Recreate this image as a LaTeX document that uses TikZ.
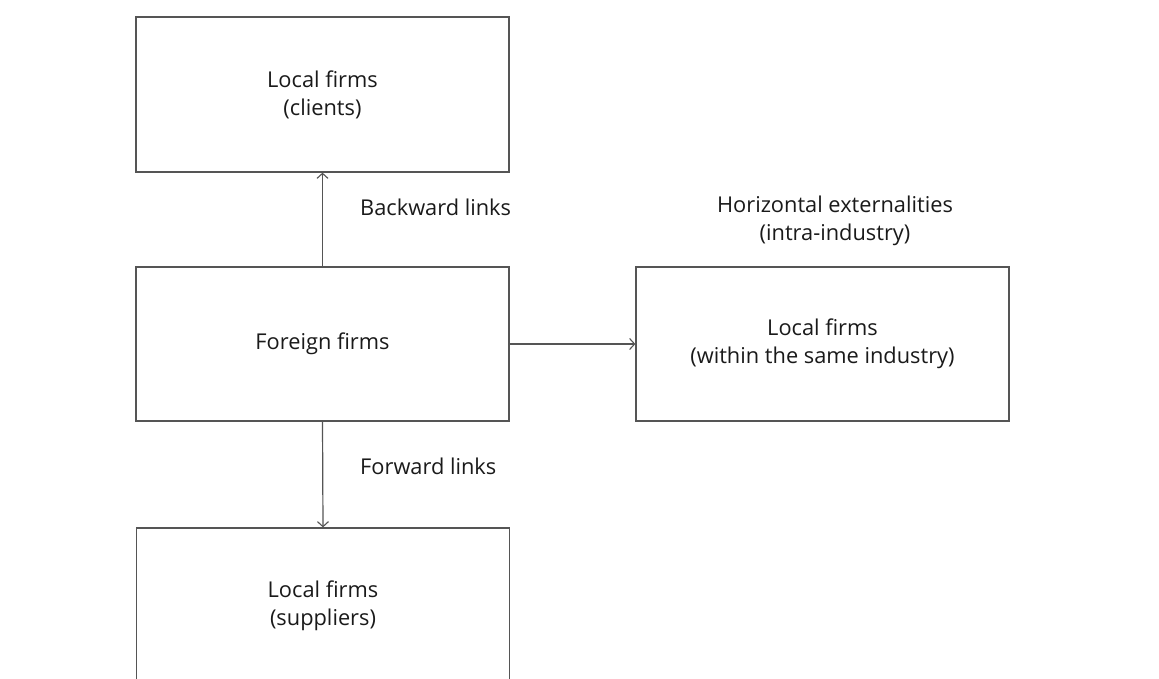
\documentclass[tikz,border=0pt]{standalone}
\usepackage{fontspec}
\setmainfont{Open Sans}
\usetikzlibrary{arrows.meta}
\definecolor{linegray}{HTML}{555555}
\definecolor{textgray}{HTML}{1A1A1A}
\tikzset{
  firmbox/.style={draw=linegray, line width=1.3pt, minimum width=373pt, minimum height=155pt, inner sep=0pt, align=center, text=textgray, font=\fontsize{21.8}{28}\selectfont},
  linkarrow/.style={draw=linegray, line width=1.2pt, -{Straight Barb[length=5pt,width=11pt,line width=1.1pt]}},
  linklabel/.style={text=textgray, font=\fontsize{21.8}{28}\selectfont, inner sep=0pt, align=center}
}
\begin{document}
\begin{tikzpicture}[x=1pt,y=-1pt]
\useasboundingbox (0,0) rectangle (1159,678);
\clip (0,0) rectangle (1159,678);
\fill[white] (0,0) rectangle (1159,678);
\node[firmbox] (clients) at (322.5,94.5) {Local firms\\(clients)};
\node[firmbox, minimum height=154pt] (foreign) at (322.5,344) {Foreign firms};
\node[firmbox, minimum height=154pt] (same) at (822.5,344) {Local firms\\(within the same industry)};
\node[firmbox] (suppliers) at (323,605.5) {Local firms\\(suppliers)};
\draw[linkarrow] (foreign.north) -- (clients.south);
\draw[linkarrow] (foreign.east) -- (same.west);
\draw[linkarrow] (foreign.south) -- (suppliers.north);
\node[linklabel, anchor=west] (bw) at (360,207) {Backward links};
\node[linklabel, anchor=west] (fw) at (360,466) {Forward links};
\node[linklabel] (hz) at (835,221) {Horizontal externalities\\(intra-industry)};
\end{tikzpicture}
\end{document}
